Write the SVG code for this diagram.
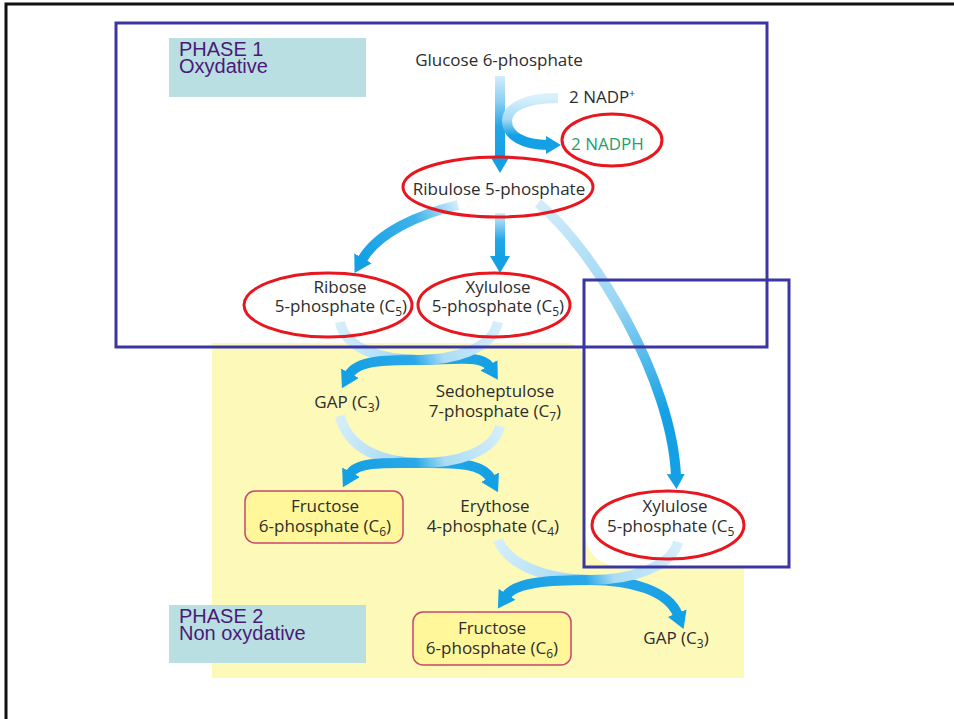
<svg xmlns="http://www.w3.org/2000/svg" width="954" height="719" viewBox="0 0 954 719">
<style>
.t{font-family:"Open Sans","Noto Sans",sans-serif;font-size:17px;fill:#2d2d2d}
.s{font-size:12px}
.ph{font-family:"Liberation Sans",Arial,sans-serif;font-size:20px;fill:#4a1a78}
.ell{fill:none;stroke:#e8161e;stroke-width:3}
.box{fill:none;stroke:#3b37a2;stroke-width:3}
.tag{fill:#b9dfe2}
.fr{fill:#fff79a;stroke:#c8456e;stroke-width:1.5}
.a{fill:none;stroke-width:10}
</style>
<defs>
<marker id="h" markerUnits="userSpaceOnUse" markerWidth="18" markerHeight="20" viewBox="0 0 18 20" refX="2" refY="10" orient="auto"><path d="M0,0 L17,10 L0,20 z" fill="#14a0e4"/></marker>
<marker id="hs" markerUnits="userSpaceOnUse" markerWidth="16" markerHeight="18" viewBox="0 0 16 18" refX="2" refY="9" orient="auto"><path d="M0,0 L15,9 L0,18 z" fill="#14a0e4"/></marker>
<linearGradient id="g1" gradientUnits="userSpaceOnUse" x1="500" y1="76" x2="500" y2="160"><stop offset="0" stop-color="#d3edfa"/><stop offset="0.3" stop-color="#8ccff2"/><stop offset="0.6" stop-color="#22a6e8"/><stop offset="1" stop-color="#14a0e4"/></linearGradient>
<linearGradient id="g2" gradientUnits="userSpaceOnUse" x1="0" y1="98" x2="0" y2="145"><stop offset="0" stop-color="#d8f0fb"/><stop offset="0.45" stop-color="#a5daf5"/><stop offset="0.8" stop-color="#14a0e4"/></linearGradient>
<linearGradient id="g3" gradientUnits="userSpaceOnUse" x1="458" y1="205" x2="362" y2="260"><stop offset="0" stop-color="#d3edfa"/><stop offset="0.4" stop-color="#3fb2ea"/><stop offset="1" stop-color="#14a0e4"/></linearGradient>
<linearGradient id="g4" gradientUnits="userSpaceOnUse" x1="500" y1="213" x2="500" y2="258"><stop offset="0" stop-color="#d3edfa"/><stop offset="0.6" stop-color="#22a6e8"/><stop offset="1" stop-color="#14a0e4"/></linearGradient>
<linearGradient id="g5" gradientUnits="userSpaceOnUse" x1="538" y1="203" x2="676" y2="476"><stop offset="0" stop-color="#d3edfa"/><stop offset="0.4" stop-color="#9ad6f4"/><stop offset="0.8" stop-color="#14a0e4"/></linearGradient>
<linearGradient id="gA" gradientUnits="userSpaceOnUse" x1="340" y1="322" x2="490" y2="366"><stop offset="0" stop-color="#d6eefa"/><stop offset="0.4" stop-color="#aadcf5"/><stop offset="0.58" stop-color="#2aa8e8"/><stop offset="1" stop-color="#14a0e4"/></linearGradient>
<linearGradient id="gB" gradientUnits="userSpaceOnUse" x1="498" y1="322" x2="349" y2="375"><stop offset="0" stop-color="#d6eefa"/><stop offset="0.4" stop-color="#aadcf5"/><stop offset="0.58" stop-color="#2aa8e8"/><stop offset="1" stop-color="#14a0e4"/></linearGradient>
<linearGradient id="gC" gradientUnits="userSpaceOnUse" x1="340" y1="416" x2="491" y2="479"><stop offset="0" stop-color="#d6eefa"/><stop offset="0.4" stop-color="#aadcf5"/><stop offset="0.58" stop-color="#2aa8e8"/><stop offset="1" stop-color="#14a0e4"/></linearGradient>
<linearGradient id="gD" gradientUnits="userSpaceOnUse" x1="500" y1="426" x2="350" y2="474"><stop offset="0" stop-color="#d6eefa"/><stop offset="0.4" stop-color="#aadcf5"/><stop offset="0.58" stop-color="#2aa8e8"/><stop offset="1" stop-color="#14a0e4"/></linearGradient>
<linearGradient id="gE" gradientUnits="userSpaceOnUse" x1="498" y1="540" x2="678" y2="615"><stop offset="0" stop-color="#d6eefa"/><stop offset="0.4" stop-color="#aadcf5"/><stop offset="0.55" stop-color="#2aa8e8"/><stop offset="1" stop-color="#14a0e4"/></linearGradient>
<linearGradient id="gF" gradientUnits="userSpaceOnUse" x1="678" y1="542" x2="506" y2="596"><stop offset="0" stop-color="#d6eefa"/><stop offset="0.4" stop-color="#aadcf5"/><stop offset="0.55" stop-color="#2aa8e8"/><stop offset="1" stop-color="#14a0e4"/></linearGradient>
</defs>

<!-- frame -->
<path d="M6,719 V4 H954" fill="none" stroke="#111" stroke-width="3"/>

<!-- background panel -->
<path id="panel" d="M212,343 H564 Q584,343 584,363 V525 Q584,567 626,567 H744 V678 H212 Z" fill="#fdf9b8"/>

<g id="phase1"><rect class="tag" x="169" y="38" width="197" height="59"/><text class="ph" x="179" y="56">PHASE 1<tspan x="179" dy="17">Oxydative</tspan></text></g>
<g id="phase2"><rect class="tag" x="169" y="605" width="197" height="58"/><text class="ph" x="179" y="623">PHASE 2<tspan x="179" dy="17">Non oxydative</tspan></text></g>

<g id="connectors">
<path class="a" d="M500,76 V158" stroke="url(#g1)" marker-end="url(#h)"/>
<path class="a" d="M558,98 C524,98 507,108 507,121 C507,136 524,145 548,145" stroke="url(#g2)" stroke-width="8" marker-end="url(#hs)"/>
<path class="a" d="M458,205 C420,214 378,232 362,260" stroke="url(#g3)" marker-end="url(#h)"/>
<path class="a" d="M500,213 V258" stroke="url(#g4)" marker-end="url(#h)"/>
<path class="a" d="M538,203 C595,250 672,380 676,476" stroke="url(#g5)" stroke-width="7" marker-end="url(#hs)"/>
<path class="a" d="M340,322 C345,350 385,360 418,360 C450,360 482,354 490,367" stroke="url(#gA)" marker-end="url(#h)"/>
<path class="a" d="M498,322 C492,350 452,360 418,360 C386,360 357,360 349,375" stroke="url(#gB)" marker-end="url(#h)"/>
<path class="a" d="M340,416 C348,450 385,463 420,463 C452,463 482,462 491,479" stroke="url(#gC)" marker-end="url(#h)"/>
<path class="a" d="M500,426 C494,453 455,463 420,463 C388,463 357,461 350,474" stroke="url(#gD)" marker-end="url(#h)"/>
<path class="a" d="M498,540 C508,566 550,580 590,580 C630,580 668,590 678,615" stroke="url(#gE)" marker-end="url(#h)"/>
<path class="a" d="M678,542 C672,567 630,580 590,580 C550,580 515,582 506,596" stroke="url(#gF)" marker-end="url(#h)"/>
</g>

<g id="boxes"><rect class="box" x="116" y="23" width="651" height="324"/><rect class="box" x="584" y="280" width="205" height="287"/></g>

<g id="glucose"><text class="t" x="499" y="66" text-anchor="middle">Glucose 6-phosphate</text></g>
<g id="nadp"><text class="t" x="569" y="103" font-size="14">2 NADP<tspan font-size="10" dy="-6">+</tspan></text></g>
<g id="nadph"><ellipse class="ell" cx="612" cy="140" rx="50" ry="26"/><text class="t" x="571" y="150" font-size="14" style="fill:#1f9e6e">2 NADPH</text></g>
<g id="ribulose"><ellipse class="ell" cx="498" cy="187" rx="95" ry="30"/><text class="t" x="499" y="195" text-anchor="middle">Ribulose 5-phosphate</text></g>
<g id="ribose"><ellipse class="ell" cx="328" cy="305" rx="84" ry="32"/><text class="t" x="340" y="293" text-anchor="middle">Ribose<tspan x="341" dy="19">5-phosphate (C</tspan><tspan class="s" dy="4">5</tspan><tspan dy="-4">)</tspan></text></g>
<g id="xylulose1"><ellipse class="ell" cx="494" cy="305" rx="76" ry="32"/><text class="t" x="498" y="293" text-anchor="middle">Xylulose<tspan x="498" dy="19">5-phosphate (C<tspan class="s" dy="4">5</tspan><tspan dy="-4">)</tspan></tspan></text></g>
<g id="gap1"><text class="t" x="347" y="408" text-anchor="middle">GAP (C<tspan class="s" dy="4">3</tspan><tspan dy="-4">)</tspan></text></g>
<g id="sedo"><text class="t" x="495" y="397" text-anchor="middle">Sedoheptulose<tspan x="495" dy="20">7-phosphate (C<tspan class="s" dy="4">7</tspan><tspan dy="-4">)</tspan></tspan></text></g>
<g id="fructose1"><rect class="fr" x="245" y="491" width="158" height="52" rx="10"/><text class="t" x="325" y="512" text-anchor="middle">Fructose<tspan x="325" dy="20">6-phosphate (C<tspan class="s" dy="4">6</tspan><tspan dy="-4">)</tspan></tspan></text></g>
<g id="erythose"><text class="t" x="495" y="512" text-anchor="middle">Erythose<tspan x="493" dy="20">4-phosphate (C<tspan class="s" dy="4">4</tspan><tspan dy="-4">)</tspan></tspan></text></g>
<g id="xylulose2"><ellipse class="ell" cx="668" cy="525" rx="76" ry="34"/><text class="t" x="675" y="512" text-anchor="middle">Xylulose</text><text class="t" x="607" y="532">5-phosphate (C<tspan class="s" dy="4">5</tspan></text></g>
<g id="fructose2"><rect class="fr" x="413" y="612" width="158" height="53" rx="10"/><text class="t" x="492" y="634" text-anchor="middle">Fructose<tspan x="492" dy="20">6-phosphate (C<tspan class="s" dy="4">6</tspan><tspan dy="-4">)</tspan></tspan></text></g>
<g id="gap2"><text class="t" x="676" y="644" text-anchor="middle">GAP (C<tspan class="s" dy="4">3</tspan><tspan dy="-4">)</tspan></text></g>
</svg>
